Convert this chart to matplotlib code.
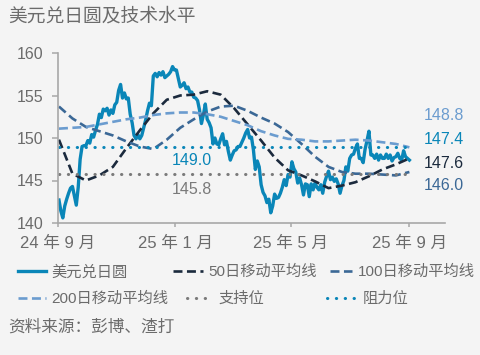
import matplotlib
matplotlib.use("Agg")
import matplotlib.pyplot as plt
import matplotlib.transforms as mtrans
import pandas as pd

plt.rcParams['font.family'] = ['Liberation Sans', 'Noto Sans CJK SC']

# USD/JPY, one value every 2 days from 2024-09-02
usdjpy_dates = pd.date_range('2024-09-02', periods=183, freq='2D')
usdjpy = [
    142.7, 141.4, 140.6, 142.0, 142.8, 143.5, 144.1, 144.3, 143.2, 142.1,
    144.2, 147.5, 149.0, 149.1, 149.1, 149.7, 149.4, 150.4, 150.1, 150.9,
    151.6, 152.8, 152.4, 153.4, 153.2, 153.5, 152.7, 153.3, 152.9, 153.9,
    154.2, 155.6, 156.3, 154.7, 155.3, 154.6, 154.7, 152.8, 151.8, 150.3,
    149.9, 150.4, 149.9, 150.3, 151.2, 152.1, 153.2, 154.1, 153.8, 157.3,
    157.6, 157.2, 157.7, 157.4, 157.8, 157.1, 157.3, 157.5, 157.8, 158.4,
    158.0, 158.0, 157.0, 156.0, 156.2, 156.5, 155.8, 156.0, 155.4, 155.4,
    154.8, 154.7, 154.4, 153.3, 151.7, 152.7, 154.0, 152.2, 151.8, 151.2,
    149.3, 150.0, 149.3, 149.2, 149.9, 150.5, 149.2, 149.6, 148.4, 147.4,
    148.0, 148.5, 148.6, 149.0, 149.0, 149.5, 150.0, 150.6, 151.0, 150.0,
    150.1, 148.6, 146.3, 147.3, 146.6, 144.5, 143.6, 143.2, 142.4, 142.8,
    141.2, 142.0, 143.4, 142.9, 143.0, 143.5, 144.2, 145.1, 144.4, 145.7,
    145.4, 147.2, 146.4, 146.0, 144.7, 145.3, 144.5, 143.3, 144.6, 144.5,
    143.1, 144.6, 143.9, 144.7, 144.2, 143.9, 144.5, 143.5, 144.8, 145.5,
    146.1, 145.1, 145.4, 144.9, 145.2, 144.6, 143.5, 144.4, 145.0, 146.6,
    146.1, 147.6, 148.0, 148.1, 148.8, 149.3, 147.6, 147.6, 147.1, 148.7,
    149.7, 150.8, 148.0, 148.0, 147.6, 148.1, 147.4, 148.0, 147.6, 147.6,
    148.1, 147.6, 148.0, 147.3, 147.7, 147.8, 148.2, 147.6, 147.4, 148.5,
    147.8, 147.6, 147.4,
]

# moving averages, one value every 14 days from 2024-09-02
ma_dates = pd.date_range('2024-09-02', periods=27, freq='14D')
ma50 = [149.8, 145.8, 145.0, 145.6, 146.6, 148.8, 150.9, 152.9, 154.5, 155.0,
        155.1, 155.5, 155.1, 153.5, 151.6, 149.7, 147.7, 146.2, 145.6, 144.9,
        144.1, 144.4, 144.8, 145.5, 146.3, 146.9, 147.6]
ma100 = [153.7, 152.3, 151.3, 150.8, 150.3, 149.6, 149.0, 148.7, 149.8, 151.2,
         152.2, 153.1, 153.7, 153.8, 153.2, 152.4, 151.7, 150.7, 149.3, 147.8,
         146.6, 146.0, 145.8, 145.8, 145.7, 145.6, 146.0]
ma200 = [151.1, 151.2, 151.3, 151.6, 151.9, 152.2, 152.4, 152.7, 152.9, 153.0,
         153.0, 152.8, 152.5, 152.0, 151.5, 150.8, 150.3, 149.9, 149.8, 149.6,
         149.6, 149.7, 149.8, 149.7, 149.5, 149.3, 148.9]

support = 145.8
resistance = 149.0

series_names = ['美元兑日圆', '50日移动平均线', '100日移动平均线',
                '200日移动平均线', '支持位', '阻力位']
last_labels = ['148.8', '147.4', '147.6', '146.0']

tick_dates = ['2024-09-01', '2025-01-01', '2025-05-01', '2025-09-01']
tick_labels = ['24 年 9 月', '25 年 1 月', '25 年 5 月', '25 年 9 月']

c_main = '#0a86b8'
c_ma50 = '#1b2a3d'
c_ma100 = '#3b6896'
c_ma200 = '#6b9ccf'
c_sup = '#7a7a7a'
c_res = '#0a86b8'
bg = '#f4f4f4'
txt = '#6b6b6b'

fig = plt.figure(figsize=(4.8, 3.55), dpi=100, facecolor=bg)
ax = fig.add_axes([58 / 480, 1 - 223 / 355, 387 / 480, 170 / 355], facecolor=bg)

dash = (0, (3.4, 1.7))
dot = (0, (0.1, 2.8))

h_main, = ax.plot(usdjpy_dates, usdjpy, color=c_main, lw=2.4, solid_joinstyle='round')
h50, = ax.plot(ma_dates, ma50, color=c_ma50, lw=1.9, ls=dash)
h100, = ax.plot(ma_dates, ma100, color=c_ma100, lw=1.9, ls=dash)
h200, = ax.plot(ma_dates, ma200, color=c_ma200, lw=1.9, ls=dash)
span = [usdjpy_dates[0], usdjpy_dates[-1]]
h_sup, = ax.plot(span, [support, support], color=c_sup, lw=2.2, ls=dot,
                 dash_capstyle='round')
h_res, = ax.plot(span, [resistance, resistance], color=c_res, lw=2.2, ls=dot,
                 dash_capstyle='round')

ax.set_xlim(pd.Timestamp('2024-09-01'), pd.Timestamp('2025-10-08'))
ax.set_ylim(140, 160)
ax.set_yticks([140, 145, 150, 155, 160])
ax.set_xticks(pd.to_datetime(tick_dates))
ax.set_xticklabels(tick_labels)

for s in ['top', 'right']:
    ax.spines[s].set_visible(False)
for s in ['left', 'bottom']:
    ax.spines[s].set_color('#a8a8a8')
    ax.spines[s].set_linewidth(1.2)
ax.tick_params(axis='y', length=4.5, width=1.1, color='#a8a8a8', pad=6,
               labelsize=11.5, labelcolor=txt)
ax.tick_params(axis='x', length=3, width=1.1, color='#a8a8a8', pad=6,
               labelsize=12, labelcolor=txt)

# level labels inside the plot
blend = mtrans.blended_transform_factory(ax.transAxes, ax.transData)
ax.text(0.346, 147.4, f'{resistance:.1f}', transform=blend,
        ha='center', va='center', fontsize=11.5, color=c_res)
ax.text(0.346, 143.9, f'{support:.1f}', transform=blend,
        ha='center', va='center', fontsize=11.5, color=c_sup)

# end-of-series labels on the right
right_y = [115, 140, 163, 186]
right_c = [c_ma200, c_main, c_ma50, c_ma100]
for lab, y, c in zip(last_labels, right_y, right_c):
    fig.text(444 / 480, 1 - y / 355, lab, ha='center', va='center',
             fontsize=11.5, color=c)

fig.text(8 / 480, 1 - 17 / 355, '美元兑日圆及技术水平', ha='left', va='center',
         fontsize=13.5, color=txt)
fig.text(8 / 480, 1 - 327 / 355, '资料来源：彭博、渣打', ha='left', va='center',
         fontsize=12, color=txt)

# legend entries placed one by one, the way the original lays them out
handles = [h_main, h50, h100, h200, h_sup, h_res]
spots = [(18, 272), (173, 272), (330, 272), (18, 299), (187, 299), (327, 299)]
hlens = [1.85, 1.95, 1.45, 1.85, 1.7, 2.0]
for h, name, (x, y), hl in zip(handles, series_names, spots, hlens):
    fig.legend([h], [name], loc='center left', bbox_to_anchor=(x / 480, 1 - y / 355),
               frameon=False, borderpad=0, borderaxespad=0, handlelength=hl,
               handletextpad=0.35, fontsize=11, labelcolor=txt)

fig.savefig('out.png', dpi=100, facecolor=bg)
